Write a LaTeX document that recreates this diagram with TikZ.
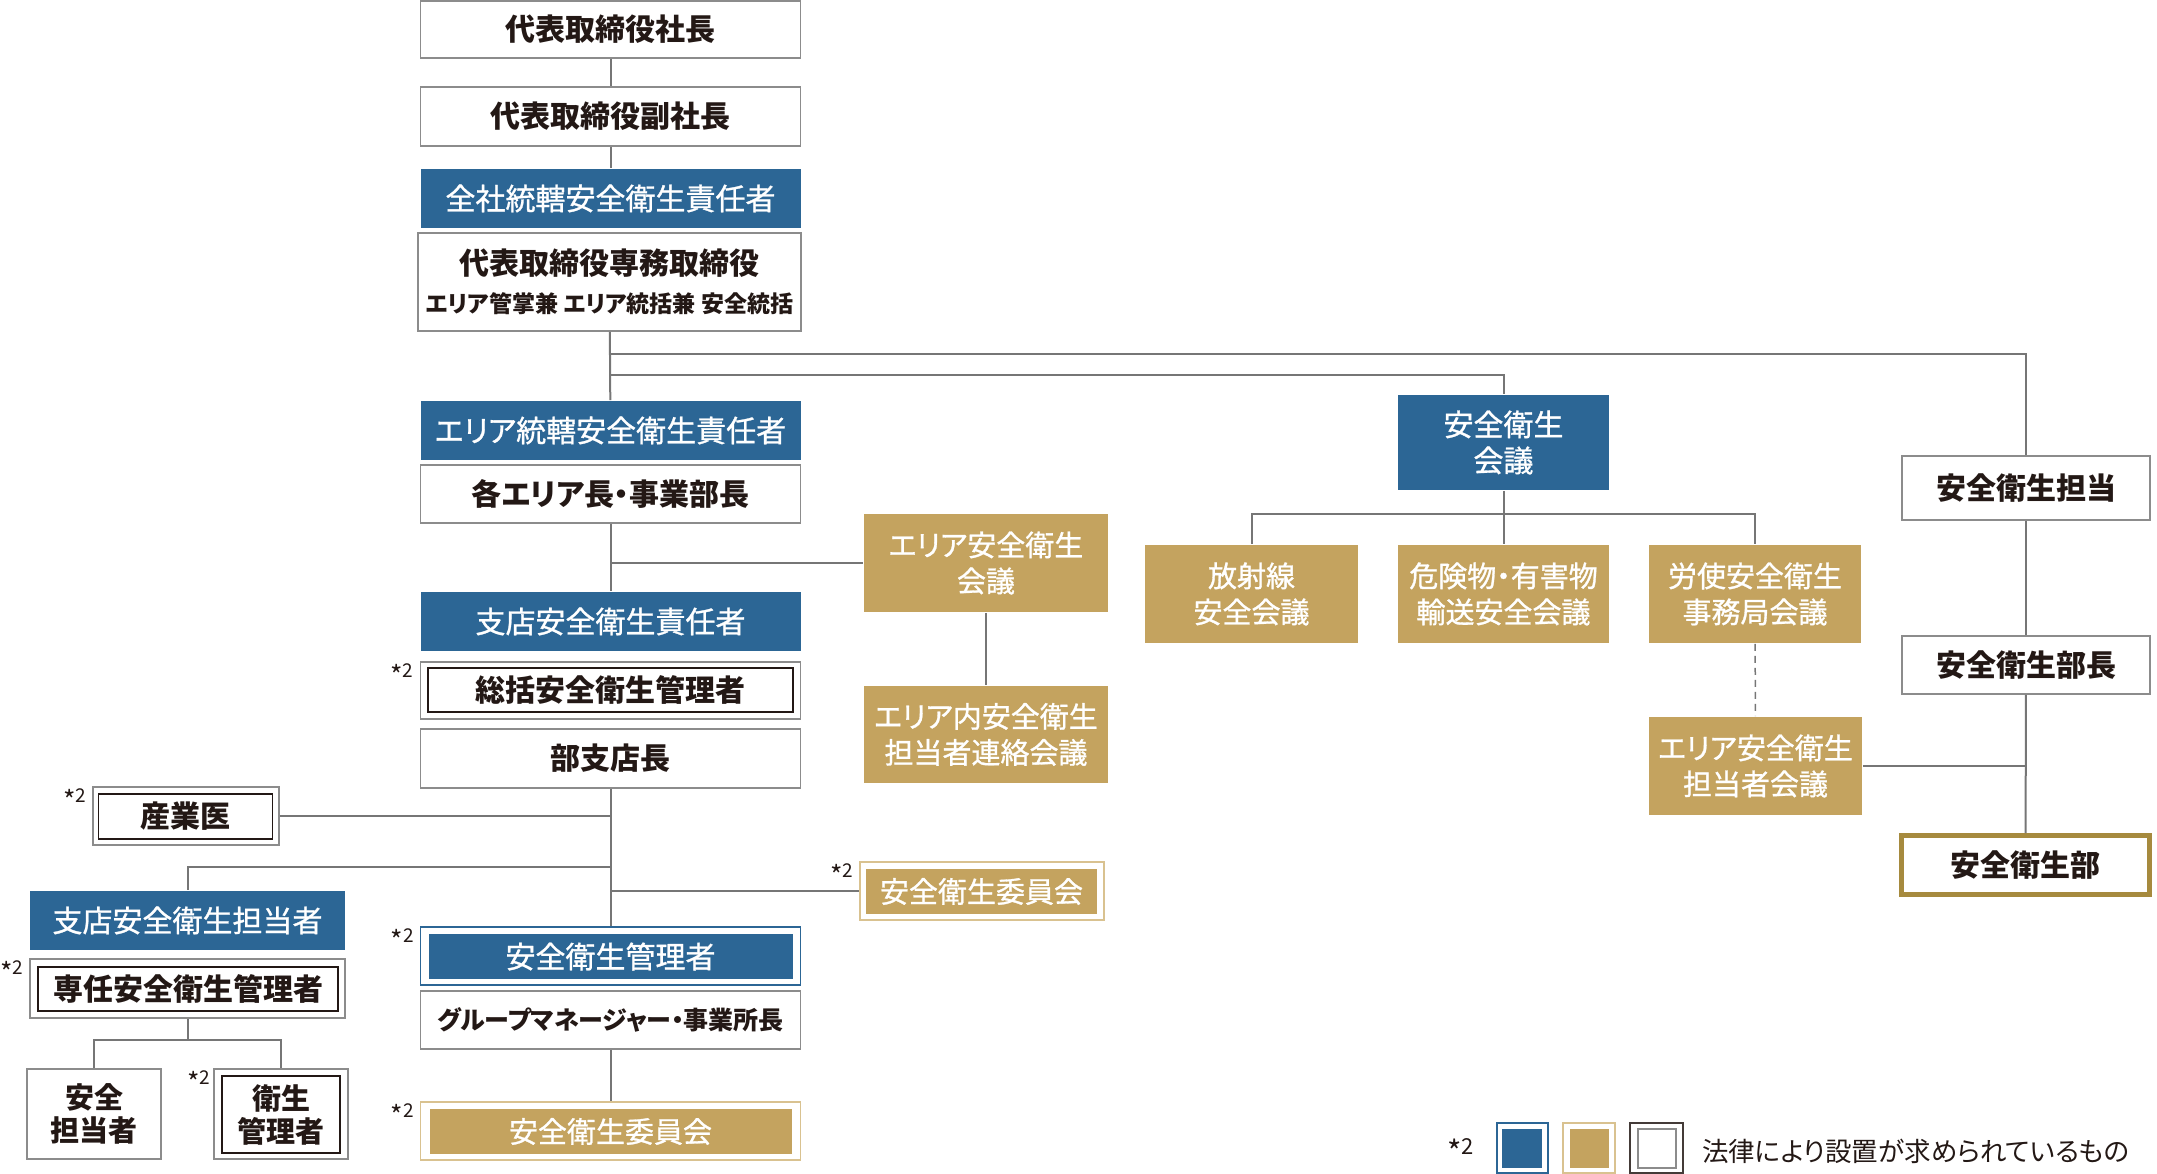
\documentclass[tikz,border=0pt]{standalone}
\usepackage{fontspec}
\newfontfamily\jp{Noto Sans CJK JP}[RawFeature=+palt]
\newfontfamily\jpm{Noto Sans CJK JP}[RawFeature=+palt,FakeBold=1.0]
\newcommand\lawmark{\raisebox{-0.42em}{\scalebox{1.4}{*}}2}
\definecolor{hsblue}{HTML}{2C6695}
\definecolor{hsgold}{HTML}{C4A35F}
\definecolor{hsgoldline}{HTML}{D9C290}
\definecolor{hsbrown}{HTML}{A68A3E}
\definecolor{boxgray}{HTML}{8C8C8C}
\definecolor{linegray}{HTML}{767676}
\definecolor{inkdark}{HTML}{231815}
\begin{document}
\begin{tikzpicture}[x=1pt,y=-1pt,
  orgbox/.style={draw=boxgray,line width=1.6pt,fill=white,text=inkdark,inner sep=0pt,align=center,
    minimum width=380pt,minimum height=58pt,font=\jp\bfseries\fontsize{30}{36}\selectfont},
  bluebox/.style={orgbox,draw=none,fill=hsblue,text=white,font=\jpm\fontsize{30}{36}\selectfont},
  goldbox/.style={orgbox,draw=none,fill=hsgold,text=white,font=\jpm\fontsize{29}{36}\selectfont},
  innerbox/.style={orgbox,draw=inkdark,line width=1.3pt},
  link/.style={draw=linegray,line width=2pt},
  law/.style={anchor=north east,inner sep=0pt,text=inkdark,font=\jp\fontsize{19}{19}\selectfont}
]
\useasboundingbox (0,0) rectangle (2157,1174);

% main column
\node[orgbox,minimum height=57pt] (ceo) at (610.5,29.5) {代表取締役社長};
\node[orgbox,minimum height=59pt] (vp) at (610.5,116.5) {代表取締役副社長};
\node[bluebox,minimum height=59pt] (zensha) at (610.5,198.5) {全社統轄安全衛生責任者};
\node[orgbox,minimum width=383pt,minimum height=98pt] (senmu) at (609.5,282)
  {代表取締役専務取締役\\[2pt]{\fontsize{23}{27}\selectfont エリア管掌兼 エリア統括兼 安全統括}};
\node[bluebox,minimum height=59pt] (areasekinin) at (610.5,430.5) {エリア統轄安全衛生責任者};
\node[orgbox] (areacho) at (610.5,494) {各エリア長・事業部長};
\node[bluebox,minimum height=59pt] (shitensekinin) at (610.5,621.5) {支店安全衛生責任者};
\node[orgbox,minimum height=57pt] (sokatsu) at (610.5,690.5) {};
\node[innerbox,minimum width=365pt,minimum height=44pt] (sokatsu-in) at (610.5,690) {総括安全衛生管理者};
\node[orgbox,minimum height=59pt] (bushitencho) at (610.5,758.5) {部支店長};
\node[orgbox,draw=hsblue,line width=1.2pt] (kanri) at (610.5,956) {};
\node[bluebox,minimum width=364pt,minimum height=45pt] (kanri-in) at (610.5,956.5) {安全衛生管理者};
\node[orgbox] (gm) at (610.5,1020) {\fontsize{25}{30}\selectfont グループマネージャー・事業所長};
\node[orgbox,draw=hsgoldline,line width=1.2pt] (iinkai) at (610.5,1131) {};
\node[goldbox,minimum width=362pt,minimum height=45pt] (iinkai-in) at (610.5,1131.5) {安全衛生委員会};

% left branch
\node[orgbox,minimum width=186pt] (sangyoi) at (186,816) {};
\node[innerbox,minimum width=174pt,minimum height=45pt] (sangyoi-in) at (185.5,816.5) {産業医};
\node[bluebox,minimum width=315pt,minimum height=59pt] (shitentanto) at (187.5,920.5) {支店安全衛生担当者};
\node[orgbox,minimum width=315pt,minimum height=59pt] (senin) at (187.5,988.5) {};
\node[innerbox,minimum width=300pt,minimum height=44pt] (senin-in) at (188,989) {専任安全衛生管理者};
\node[orgbox,minimum width=134pt,minimum height=90pt,font=\jp\bfseries\fontsize{29}{33}\selectfont] (anzen) at (94,1114) {安全\\担当者};
\node[orgbox,minimum width=134pt,minimum height=90pt] (eisei) at (281,1114) {};
\node[innerbox,minimum width=118pt,minimum height=77pt,font=\jp\bfseries\fontsize{29}{33}\selectfont] (eisei-in) at (281,1114.5) {衛生\\管理者};

% area meetings
\node[goldbox,minimum width=244pt,minimum height=98pt] (areakaigi) at (986,563) {エリア安全衛生\\会議};
\node[goldbox,minimum width=244pt,minimum height=97pt] (areanai) at (986,734.5) {エリア内安全衛生\\担当者連絡会議};
\node[orgbox,draw=hsgoldline,line width=1.2pt,minimum width=244pt] (iinkai2) at (982,891) {};
\node[goldbox,minimum width=231pt,minimum height=45pt] (iinkai2-in) at (981.5,891.5) {安全衛生委員会};

% safety meeting and right column
\node[bluebox,minimum width=211pt,minimum height=95pt] (kaigi) at (1503.5,442.5) {安全衛生\\会議};
\node[goldbox,minimum width=213pt,minimum height=98pt] (hoshasen) at (1251.5,594) {放射線\\安全会議};
\node[goldbox,minimum width=211pt,minimum height=98pt] (kiken) at (1503.5,594) {危険物・有害物\\輸送安全会議};
\node[goldbox,minimum width=212pt,minimum height=98pt] (roshi) at (1755,594) {労使安全衛生\\事務局会議};
\node[goldbox,minimum width=213pt,minimum height=98pt] (areatanto) at (1755.5,766) {エリア安全衛生\\担当者会議};
\node[orgbox,minimum width=248pt,minimum height=64pt] (tanto) at (2026,488) {安全衛生担当};
\node[orgbox,minimum width=248pt,minimum height=58pt] (bucho) at (2026,665) {安全衛生部長};
\node[orgbox,draw=hsbrown,line width=5pt,minimum width=248pt,minimum height=59pt] (anzenbu) at (2025.5,865) {安全衛生部};

% *2 marks
\foreach \n in {sokatsu,sangyoi,senin,kanri,iinkai,iinkai2}
  \node[law] (\n-mark) at ([xshift=-6pt,yshift=-2pt]\n.north west) {\lawmark};
\node[law] (eisei-mark) at ([xshift=-3pt,yshift=-2pt]eisei.north west) {\lawmark};

% connectors
\draw[link] (ceo) -- (vp);
\draw[link] (vp) -- (zensha);
\draw[link] (senmu) -- (areasekinin);
\draw[link] (areacho) -- (shitensekinin);
\draw[link] (bushitencho) -- (kanri);
\draw[link] (gm) -- (iinkai);
\coordinate (j1) at (610.5,354);
\coordinate (j2) at (610.5,375);
\coordinate (j3) at (610.5,563);
\draw[link] (j1) -| (tanto);
\draw[link] (j2) -| (kaigi);
\draw[link] (j3) -- (areakaigi);
\draw[link] (areakaigi) -- (areanai);

\coordinate (kb) at (1503.5,514);
\draw[link] (kaigi) -- (kiken);
\draw[link] (hoshasen) |- (kb) -| (roshi);
\draw[link,line width=1.5pt,dash pattern=on 7pt off 5pt] (roshi) -- (areatanto);
\coordinate (kr) at (2026,766);
\draw[link] (areatanto) -- (kr);
\draw[link] (tanto) -- (bucho);
\draw[link] (bucho) -- (anzenbu);

\coordinate (s1) at (610.5,816);
\coordinate (s2) at (610.5,867);
\coordinate (s3) at (610.5,891);
\draw[link] (sangyoi) -- (s1);
\draw[link] (s2) -| (shitentanto);
\draw[link] (s3) -- (iinkai2);
\coordinate (s4) at (187.5,1040);
\draw[link] (senin) -- (s4);
\draw[link] (anzen) |- (s4) -| (eisei);

% legend
\node[law,anchor=east,font=\jp\fontsize{22}{22}\selectfont] (legmark) at (1474,1151) {\lawmark};
\node[orgbox,draw=hsblue,line width=1.2pt,minimum width=51pt,minimum height=50pt] (legblue) at (1522.5,1148) {};
\node[bluebox,minimum width=40pt,minimum height=39pt] (legblue-in) at (1522,1148.5) {};
\node[orgbox,draw=hsgoldline,line width=1.2pt,minimum width=52pt,minimum height=50pt] (leggold) at (1589,1148) {};
\node[goldbox,minimum width=39pt,minimum height=39pt] (leggold-in) at (1589.5,1148.5) {};
\node[orgbox,draw=inkdark!85,line width=1.3pt,minimum width=53pt,minimum height=50pt] (legwhite) at (1656.5,1148) {};
\node[orgbox,draw=boxgray,line width=1.3pt,minimum width=38pt,minimum height=39pt] (legwhite-in) at (1657,1148.5) {};
\node[anchor=west,inner sep=0pt,text=inkdark,font=\jp\fontsize{26.5}{30}\selectfont] (legtext) at (1702,1151) {法律により設置が求められているもの};
\end{tikzpicture}
\end{document}
